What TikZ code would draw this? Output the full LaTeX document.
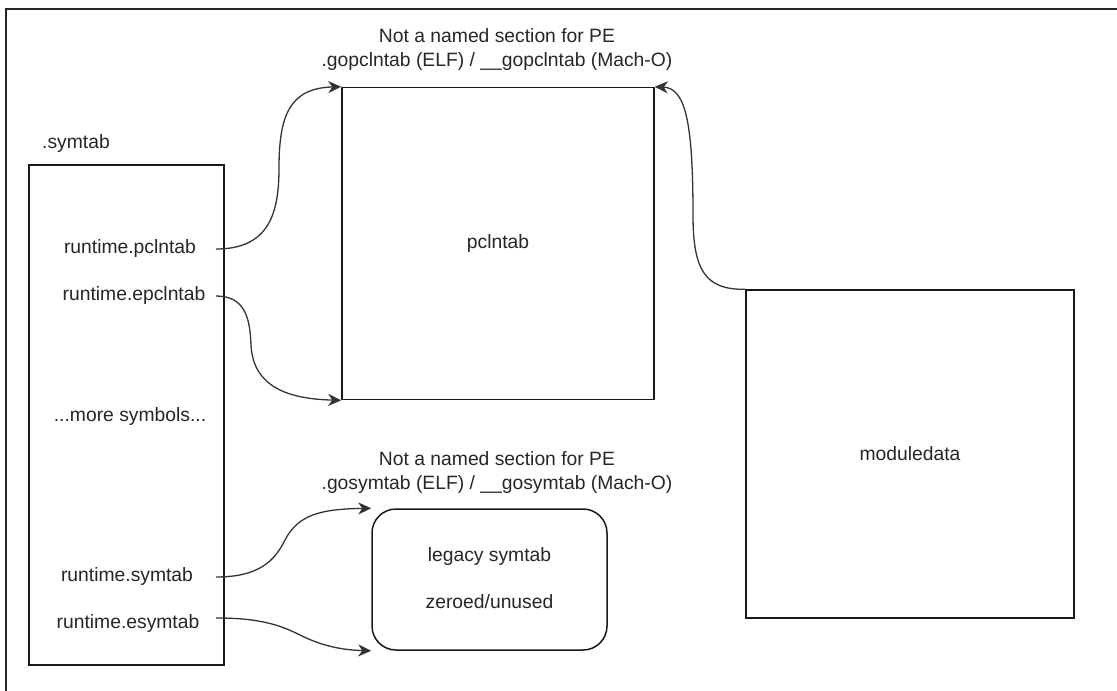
\documentclass[tikz,border=0pt]{standalone}
\usepackage{fontspec}
\setmainfont{Liberation Sans}
\usetikzlibrary{arrows.meta}
\begin{document}
\begin{tikzpicture}[x=1pt,y=-1pt,
  every node/.style={font=\fontsize{19.3}{26}\selectfont, text=black!85, inner sep=0pt},
  box/.style={draw=black!90, line width=1.5pt, fill=white},
  conn/.style={draw=black!80, line width=1.3pt, -{Stealth[length=13pt,width=12pt,inset=4pt]}},
  frame/.style={draw=black!85, line width=1.8pt}]
\useasboundingbox (0,0) rectangle (1117,691);
% outer frame (cropped)
\coordinate (f1) at (6,691);
\coordinate (f2) at (6,9);
\coordinate (f3) at (1117,9);
\draw[frame] (f1) -- (f2) -- (f3);
% boxes
\node[box, minimum width=195pt, minimum height=500pt] (sym) at (126.5,415) {};
\node[box, minimum width=312pt, minimum height=312pt] (pcl) at (498,243.5) {pclntab};
\node[box, minimum width=328pt, minimum height=328pt] (md) at (910,454) {moduledata};
\node[box, rounded corners=24pt, minimum width=235pt, minimum height=141pt] (leg) at (489.5,579.5) {};
% labels
\node (symlbl) at (76,144) {.symtab};
\node (t1a) at (497,36) {Not a named section for PE};
\node (t1b) at (497,62) {.gopclntab (ELF) / \_\_gopclntab (Mach-O)};
\node (t2a) at (497,459) {Not a named section for PE};
\node (t2b) at (497,485) {.gosymtab (ELF) / \_\_gosymtab (Mach-O)};
\node (l1) at (489.5,557) {legacy symtab};
\node (l2) at (489.5,602) {zeroed/unused};
\node (r1) at (130,249) {runtime.pclntab};
\node (r2) at (134,296) {runtime.epclntab};
\node (r3) at (130,417) {...more symbols...};
\node (r4) at (127,577) {runtime.symtab};
\node (r5) at (128,624) {runtime.esymtab};
% connector start points
\coordinate (s1) at (216,249);
\coordinate (s2) at (216,296);
\coordinate (s3) at (216,577);
\coordinate (s4) at (216,618);
% connectors
\draw[conn] (s1) .. controls (268,249) and (279,215) .. (279,168) .. controls (279,115) and (290,88) .. (pcl.north west);
\draw[conn] (s2) .. controls (245,296) and (250,318) .. (251,345) .. controls (253,385) and (285,399) .. (pcl.south west);
\draw[conn] (md.north west) .. controls (705,290) and (693,270) .. (693,215) .. controls (693,120) and (685,88) .. (pcl.north east);
\draw[conn] (s3) .. controls (260,577) and (275,560) .. (285,540) .. controls (298,515) and (320,509) .. (leg.north west);
\draw[conn] (s4) .. controls (260,618) and (280,625) .. (300,635) .. controls (320,645) and (340,650) .. (leg.south west);
\end{tikzpicture}
\end{document}
